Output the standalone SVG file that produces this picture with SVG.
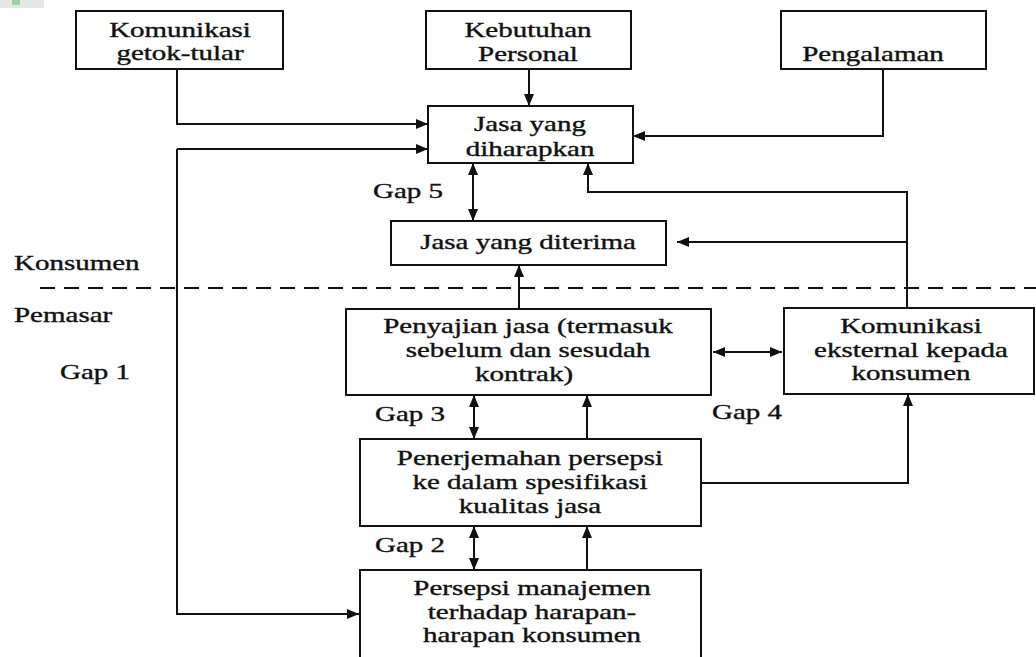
<svg xmlns="http://www.w3.org/2000/svg" width="1036" height="657" viewBox="0 0 1036 657">
<style>
.box{fill:#fff;stroke:#111;stroke-width:2}
.t{font-family:"Liberation Serif","Times New Roman",serif;font-size:20px;fill:#111;stroke:#111;stroke-width:0.35}
.c{text-anchor:middle}
.ln{fill:none;stroke:#111;stroke-width:2}
.dash{fill:none;stroke:#111;stroke-width:2;stroke-dasharray:15 9}
</style>
<defs>
<marker id="ah" markerUnits="userSpaceOnUse" markerWidth="12" markerHeight="12" viewBox="0 0 12 12" refX="12" refY="6" orient="auto-start-reverse">
<path d="M0,1 L12,6 L0,11 z" fill="#111"/>
</marker>
</defs>
<rect width="1036" height="657" fill="#fff"/>
<rect x="0" y="0" width="44" height="8" fill="#e4e8e4"/>
<rect x="12" y="0" width="8" height="5" fill="#9fcf9f"/>

<g id="connectors">
<path class="ln" d="M177,69 V124 H428" marker-end="url(#ah)"/>
<path class="ln" d="M177,149 H428" marker-end="url(#ah)"/>
<path class="ln" d="M177,149 V614 H359" marker-end="url(#ah)"/>
<path class="ln" d="M529,69 V106" marker-end="url(#ah)"/>
<path class="ln" d="M883,69 V136 H633" marker-end="url(#ah)"/>
<path class="ln" d="M473,163 V221" marker-start="url(#ah)" marker-end="url(#ah)"/>
<path class="ln" d="M907,308 V192 H588 V163" marker-end="url(#ah)"/>
<path class="ln" d="M907,242 H677" marker-end="url(#ah)"/>
<path class="ln" d="M519,309 V265" marker-end="url(#ah)"/>
<path class="ln" d="M713,352 H782" marker-start="url(#ah)" marker-end="url(#ah)"/>
<path class="ln" d="M474,395 V439" marker-start="url(#ah)" marker-end="url(#ah)"/>
<path class="ln" d="M587,439 V395" marker-end="url(#ah)"/>
<path class="ln" d="M701,483 H908 V394" marker-end="url(#ah)"/>
<path class="ln" d="M474,526 V570" marker-start="url(#ah)" marker-end="url(#ah)"/>
<path class="ln" d="M587,570 V526" marker-end="url(#ah)"/>
<path class="dash" d="M40,288 H1036"/>
</g>

<g id="n-getok">
<rect class="box" x="76" y="11" width="207" height="58"/>
<text class="t c" transform="translate(180,37) scale(1.45,1)">Komunikasi</text>
<text class="t c" transform="translate(180,60) scale(1.45,1)">getok-tular</text>
</g>
<g id="n-kebutuhan">
<rect class="box" x="426" y="11" width="205" height="58"/>
<text class="t c" transform="translate(528,37) scale(1.45,1)">Kebutuhan</text>
<text class="t c" transform="translate(528,61) scale(1.45,1)">Personal</text>
</g>
<g id="n-pengalaman">
<rect class="box" x="781" y="11" width="205" height="58"/>
<text class="t c" transform="translate(873,61) scale(1.45,1)">Pengalaman</text>
</g>
<g id="n-diharapkan">
<rect class="box" x="428" y="106" width="205" height="57"/>
<text class="t c" transform="translate(530,131) scale(1.45,1)">Jasa yang</text>
<text class="t c" transform="translate(530,156) scale(1.45,1)">diharapkan</text>
</g>
<g id="n-diterima">
<rect class="box" x="391" y="221" width="275" height="44"/>
<text class="t c" transform="translate(528,249) scale(1.45,1)">Jasa yang diterima</text>
</g>
<g id="n-penyajian">
<rect class="box" x="346" y="309" width="365" height="86"/>
<text class="t c" transform="translate(528,333) scale(1.45,1)">Penyajian jasa (termasuk</text>
<text class="t c" transform="translate(528,357) scale(1.45,1)">sebelum dan sesudah</text>
<text class="t c" transform="translate(524,381) scale(1.45,1)">kontrak)</text>
</g>
<g id="n-eksternal">
<rect class="box" x="784" y="308" width="250" height="86"/>
<text class="t c" transform="translate(911,333) scale(1.45,1)">Komunikasi</text>
<text class="t c" transform="translate(911,357) scale(1.45,1)">eksternal kepada</text>
<text class="t c" transform="translate(911,380) scale(1.45,1)">konsumen</text>
</g>
<g id="n-penerjemahan">
<rect class="box" x="360" y="439" width="341" height="87"/>
<text class="t c" transform="translate(530,465) scale(1.45,1)">Penerjemahan persepsi</text>
<text class="t c" transform="translate(530,489) scale(1.45,1)">ke dalam spesifikasi</text>
<text class="t c" transform="translate(530,513) scale(1.45,1)">kualitas jasa</text>
</g>
<g id="n-persepsi">
<rect class="box" x="360" y="570" width="341" height="95"/>
<text class="t c" transform="translate(532,595) scale(1.45,1)">Persepsi manajemen</text>
<text class="t c" transform="translate(532,619) scale(1.45,1)">terhadap harapan-</text>
<text class="t c" transform="translate(532,642) scale(1.45,1)">harapan konsumen</text>
</g>

<g id="labels">
<text class="t" transform="translate(14,270) scale(1.45,1)">Konsumen</text>
<text class="t" transform="translate(14,322) scale(1.45,1)">Pemasar</text>
<text class="t" transform="translate(60,379) scale(1.45,1)">Gap 1</text>
<text class="t" transform="translate(373,198) scale(1.45,1)">Gap 5</text>
<text class="t" transform="translate(375,421) scale(1.45,1)">Gap 3</text>
<text class="t" transform="translate(712,419) scale(1.45,1)">Gap 4</text>
<text class="t" transform="translate(375,552) scale(1.45,1)">Gap 2</text>
</g>
</svg>
